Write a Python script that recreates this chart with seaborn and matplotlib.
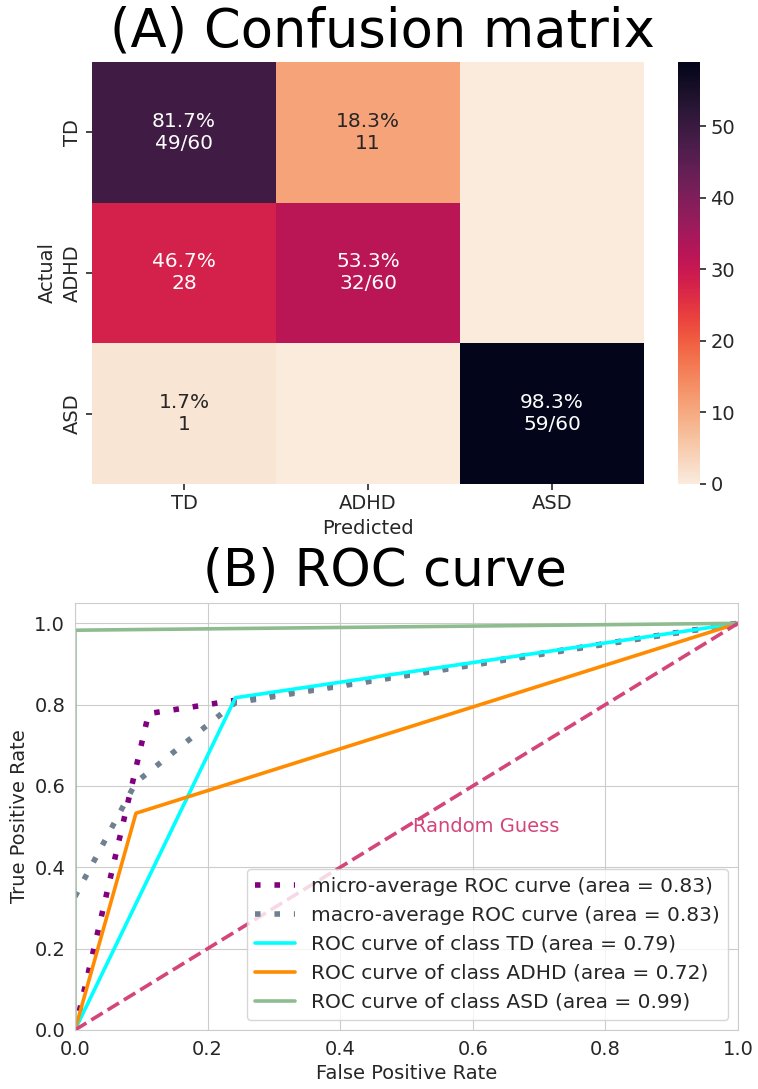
import numpy as np
import matplotlib
matplotlib.use("Agg")
import matplotlib.pyplot as plt
import seaborn as sns

# confusion matrix (rows = actual, cols = predicted)
classes = ["TD", "ADHD", "ASD"]
counts_td = [49, 11, 0]
counts_adhd = [28, 32, 0]
counts_asd = [1, 0, 59]

# ROC curve points
micro_fpr = [0.0, 0.111, 1.0]
micro_tpr = [0.0, 0.778, 1.0]
macro_fpr = [0.0, 0.092, 0.242, 1.0]
macro_tpr = [0.328, 0.609, 0.805, 1.0]
td_fpr = [0.0, 0.242, 1.0]
td_tpr = [0.0, 0.817, 1.0]
adhd_fpr = [0.0, 0.092, 1.0]
adhd_tpr = [0.0, 0.533, 1.0]
asd_fpr = [0.0, 0.0, 1.0]
asd_tpr = [0.0, 0.983, 1.0]
auc_micro = 0.83
auc_macro = 0.83
auc_td = 0.79
auc_adhd = 0.72
auc_asd = 0.99


def cell_labels(cm):
    labels = []
    for i, row in enumerate(cm):
        total = row.sum()
        out = []
        for j, v in enumerate(row):
            if v == 0:
                out.append("")
            elif i == j:
                out.append(f"{100 * v / total:.1f}%\n{v}/{total}")
            else:
                out.append(f"{100 * v / total:.1f}%\n{v}")
        labels.append(out)
    return np.array(labels)


def plot_confusion(fig):
    cm = np.array([counts_td, counts_adhd, counts_asd])
    ax = fig.add_axes([0.1214, 0.5556, 0.7282, 0.3875])
    cax = fig.add_axes([0.8945, 0.5556, 0.029, 0.3875])
    sns.heatmap(cm, annot=cell_labels(cm), fmt="", cmap="rocket_r",
                xticklabels=classes, yticklabels=classes,
                annot_kws={"fontsize": 14.5}, ax=ax, cbar_ax=cax)
    ax.set_xlabel("Predicted", fontsize=14)
    ax.set_ylabel("Actual", fontsize=14)
    ax.tick_params(axis="both", labelsize=14, bottom=True, left=True,
                   length=4, width=1.2, color=".15")
    plt.setp(ax.get_yticklabels(), rotation=90, va="center")
    cax.tick_params(labelsize=14, right=True, length=4, width=1.2, color=".15")
    fig.text(0.504, 0.971, "(A) Confusion matrix", fontsize=38,
             ha="center", va="center", color="black")


def plot_roc(fig):
    ax = fig.add_axes([0.0989, 0.0542, 0.8747, 0.3921])
    dots = (0, (1, 2.5))
    ax.plot(micro_fpr, micro_tpr, color="purple", linestyle=dots, linewidth=4,
            label=f"micro-average ROC curve (area = {auc_micro:.2f})")
    ax.plot(macro_fpr, macro_tpr, color="slategray", linestyle=dots, linewidth=4,
            label=f"macro-average ROC curve (area = {auc_macro:.2f})")
    ax.plot(td_fpr, td_tpr, color="aqua", linewidth=2.6,
            label=f"ROC curve of class TD (area = {auc_td:.2f})")
    ax.plot(adhd_fpr, adhd_tpr, color="darkorange", linewidth=2.6,
            label=f"ROC curve of class ADHD (area = {auc_adhd:.2f})")
    ax.plot(asd_fpr, asd_tpr, color="darkseagreen", linewidth=2.6,
            label=f"ROC curve of class ASD (area = {auc_asd:.2f})")
    ax.plot([0, 1], [0, 1], color="#d4457a", linestyle="--", linewidth=2.6)
    ax.text(0.51, 0.5, "Random Guess", color="#d4457a", fontsize=14, va="center")
    ax.set_xlim(0.0, 1.0)
    ax.set_ylim(0.0, 1.05)
    ax.set_xlabel("False Positive Rate", fontsize=14)
    ax.set_ylabel("True Positive Rate", fontsize=14)
    ax.tick_params(labelsize=14)
    ax.legend(loc="lower right", fontsize=14.5)
    fig.text(0.508, 0.4747, "(B) ROC curve", fontsize=37, ha="center",
             va="center", color="black")


if __name__ == "__main__":
    sns.set_style("whitegrid")
    fig = plt.figure(figsize=(7.58, 10.89), dpi=100)
    plot_confusion(fig)
    plot_roc(fig)
    fig.savefig("out.png", dpi=100)
    plt.close(fig)
